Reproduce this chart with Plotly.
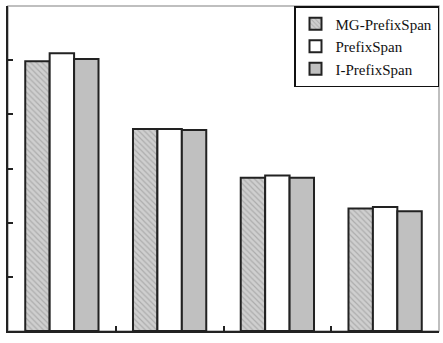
import plotly.graph_objects as go

groups = ["1", "2", "3", "4"]
mg_prefixspan = [4.98, 3.73, 2.83, 2.26]
prefixspan = [5.13, 3.73, 2.87, 2.29]
i_prefixspan = [5.02, 3.71, 2.83, 2.21]

fig = go.Figure()
fig.add_trace(go.Bar(
    x=groups, y=mg_prefixspan, name="MG-PrefixSpan",
    marker=dict(color="#c4c4c4", line=dict(color="#222222", width=2),
                pattern=dict(shape="\\", fgcolor="#8a8a8a", bgcolor="#cfcfcf", size=4, solidity=0.3)),
))
fig.add_trace(go.Bar(
    x=groups, y=prefixspan, name="PrefixSpan",
    marker=dict(color="#ffffff", line=dict(color="#222222", width=2)),
))
fig.add_trace(go.Bar(
    x=groups, y=i_prefixspan, name="I-PrefixSpan",
    marker=dict(color="#c0c0c0", line=dict(color="#222222", width=2)),
))

fig.update_layout(
    width=443, height=343,
    margin=dict(l=8, r=4, t=6, b=12),
    paper_bgcolor="white", plot_bgcolor="white",
    barmode="group", bargap=0.32, bargroupgap=0,
    showlegend=True,
    legend=dict(
        x=1, xanchor="right", y=1, yanchor="top",
        bgcolor="white", bordercolor="#111111", borderwidth=1.5,
        font=dict(family="Liberation Serif", size=15, color="#111111"),
        itemwidth=30, tracegroupgap=0,
    ),
    shapes=[dict(type="rect", xref="paper", yref="paper", x0=0, y0=0, x1=1, y1=1,
                 line=dict(color="#aaaaaa", width=1.5), layer="below")],
)
fig.update_xaxes(
    type="category", showticklabels=False, tickson="boundaries",
    ticks="inside", ticklen=5, tickwidth=1.5, tickcolor="#222222",
    showline=True, linecolor="#222222", linewidth=2, showgrid=False, zeroline=False,
)
fig.update_yaxes(
    range=[0, 6], dtick=1, showticklabels=False,
    ticks="inside", ticklen=5, tickwidth=1.5, tickcolor="#222222",
    showline=True, linecolor="#222222", linewidth=2, showgrid=False, zeroline=False,
)

fig.write_html("out.html")
